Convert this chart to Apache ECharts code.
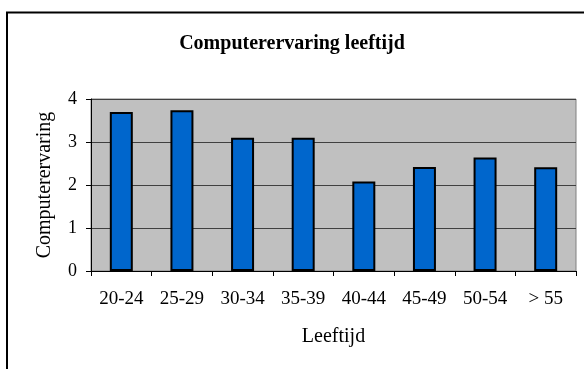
<!DOCTYPE html>
<html>
<head>
<meta charset="utf-8">
<script src="https://cdn.jsdelivr.net/npm/echarts@6/dist/echarts.min.js"></script>
<style>
  html, body { margin: 0; padding: 0; background: #fff; }
  #chart { width: 584px; height: 369px; }
</style>
</head>
<body>
<div id="chart"></div>
<script>
// Age groups and average computer experience per group
const ageGroups = ['20-24', '25-29', '30-34', '35-39', '40-44', '45-49', '50-54', '> 55'];
const experience = [3.70, 3.74, 3.10, 3.10, 2.08, 2.42, 2.64, 2.41];
const yTicks = [0, 1, 2, 3, 4];

const serif = '"Liberation Serif", "DejaVu Serif", serif';

const chart = echarts.init(document.getElementById('chart'), null, { renderer: 'canvas' });

chart.setOption({
  animation: false,
  backgroundColor: '#ffffff',
  textStyle: { fontFamily: serif, color: '#000' },
  title: {
    text: 'Computerervaring leeftijd',
    left: 'center',
    top: 29,
    textStyle: { fontFamily: serif, fontWeight: 'bold', fontSize: 20, color: '#000' }
  },
  graphic: [{
    type: 'rect',
    silent: true,
    z: -10,
    shape: { x: 7, y: 12.5, width: 620, height: 420 },
    style: { fill: 'none', stroke: '#000', lineWidth: 2 }
  }],
  grid: {
    left: 91, right: 8, top: 99, bottom: 98,
    show: true,
    backgroundColor: '#c0c0c0',
    borderColor: '#808080',
    borderWidth: 1
  },
  xAxis: {
    type: 'category',
    data: ageGroups,
    boundaryGap: true,
    name: 'Leeftijd',
    nameLocation: 'middle',
    nameGap: 56,
    nameTextStyle: { fontFamily: serif, fontSize: 20, color: '#000' },
    axisLine: { show: true, lineStyle: { color: '#000', width: 1 } },
    axisTick: { show: true, alignWithLabel: false, length: 5, lineStyle: { color: '#000' } },
    axisLabel: { fontFamily: serif, fontSize: 19, color: '#000', margin: 19, interval: 0 },
    splitLine: { show: false }
  },
  yAxis: {
    type: 'value',
    min: yTicks[0],
    max: yTicks[yTicks.length - 1],
    interval: 1,
    name: 'Computerervaring',
    nameLocation: 'middle',
    nameGap: 36,
    nameTextStyle: { fontFamily: serif, fontSize: 20, color: '#000' },
    axisLine: { show: true, lineStyle: { color: '#000', width: 1 } },
    axisTick: { show: true, length: 5, lineStyle: { color: '#000' } },
    axisLabel: { fontFamily: serif, fontSize: 18, color: '#000', margin: 14 },
    splitLine: { show: true, lineStyle: { color: '#404040', width: 1 } }
  },
  series: [{
    type: 'bar',
    data: experience,
    barWidth: 23,
    itemStyle: { color: '#0066cc', borderColor: '#000', borderWidth: 2 }
  }]
});
</script>
</body>
</html>
